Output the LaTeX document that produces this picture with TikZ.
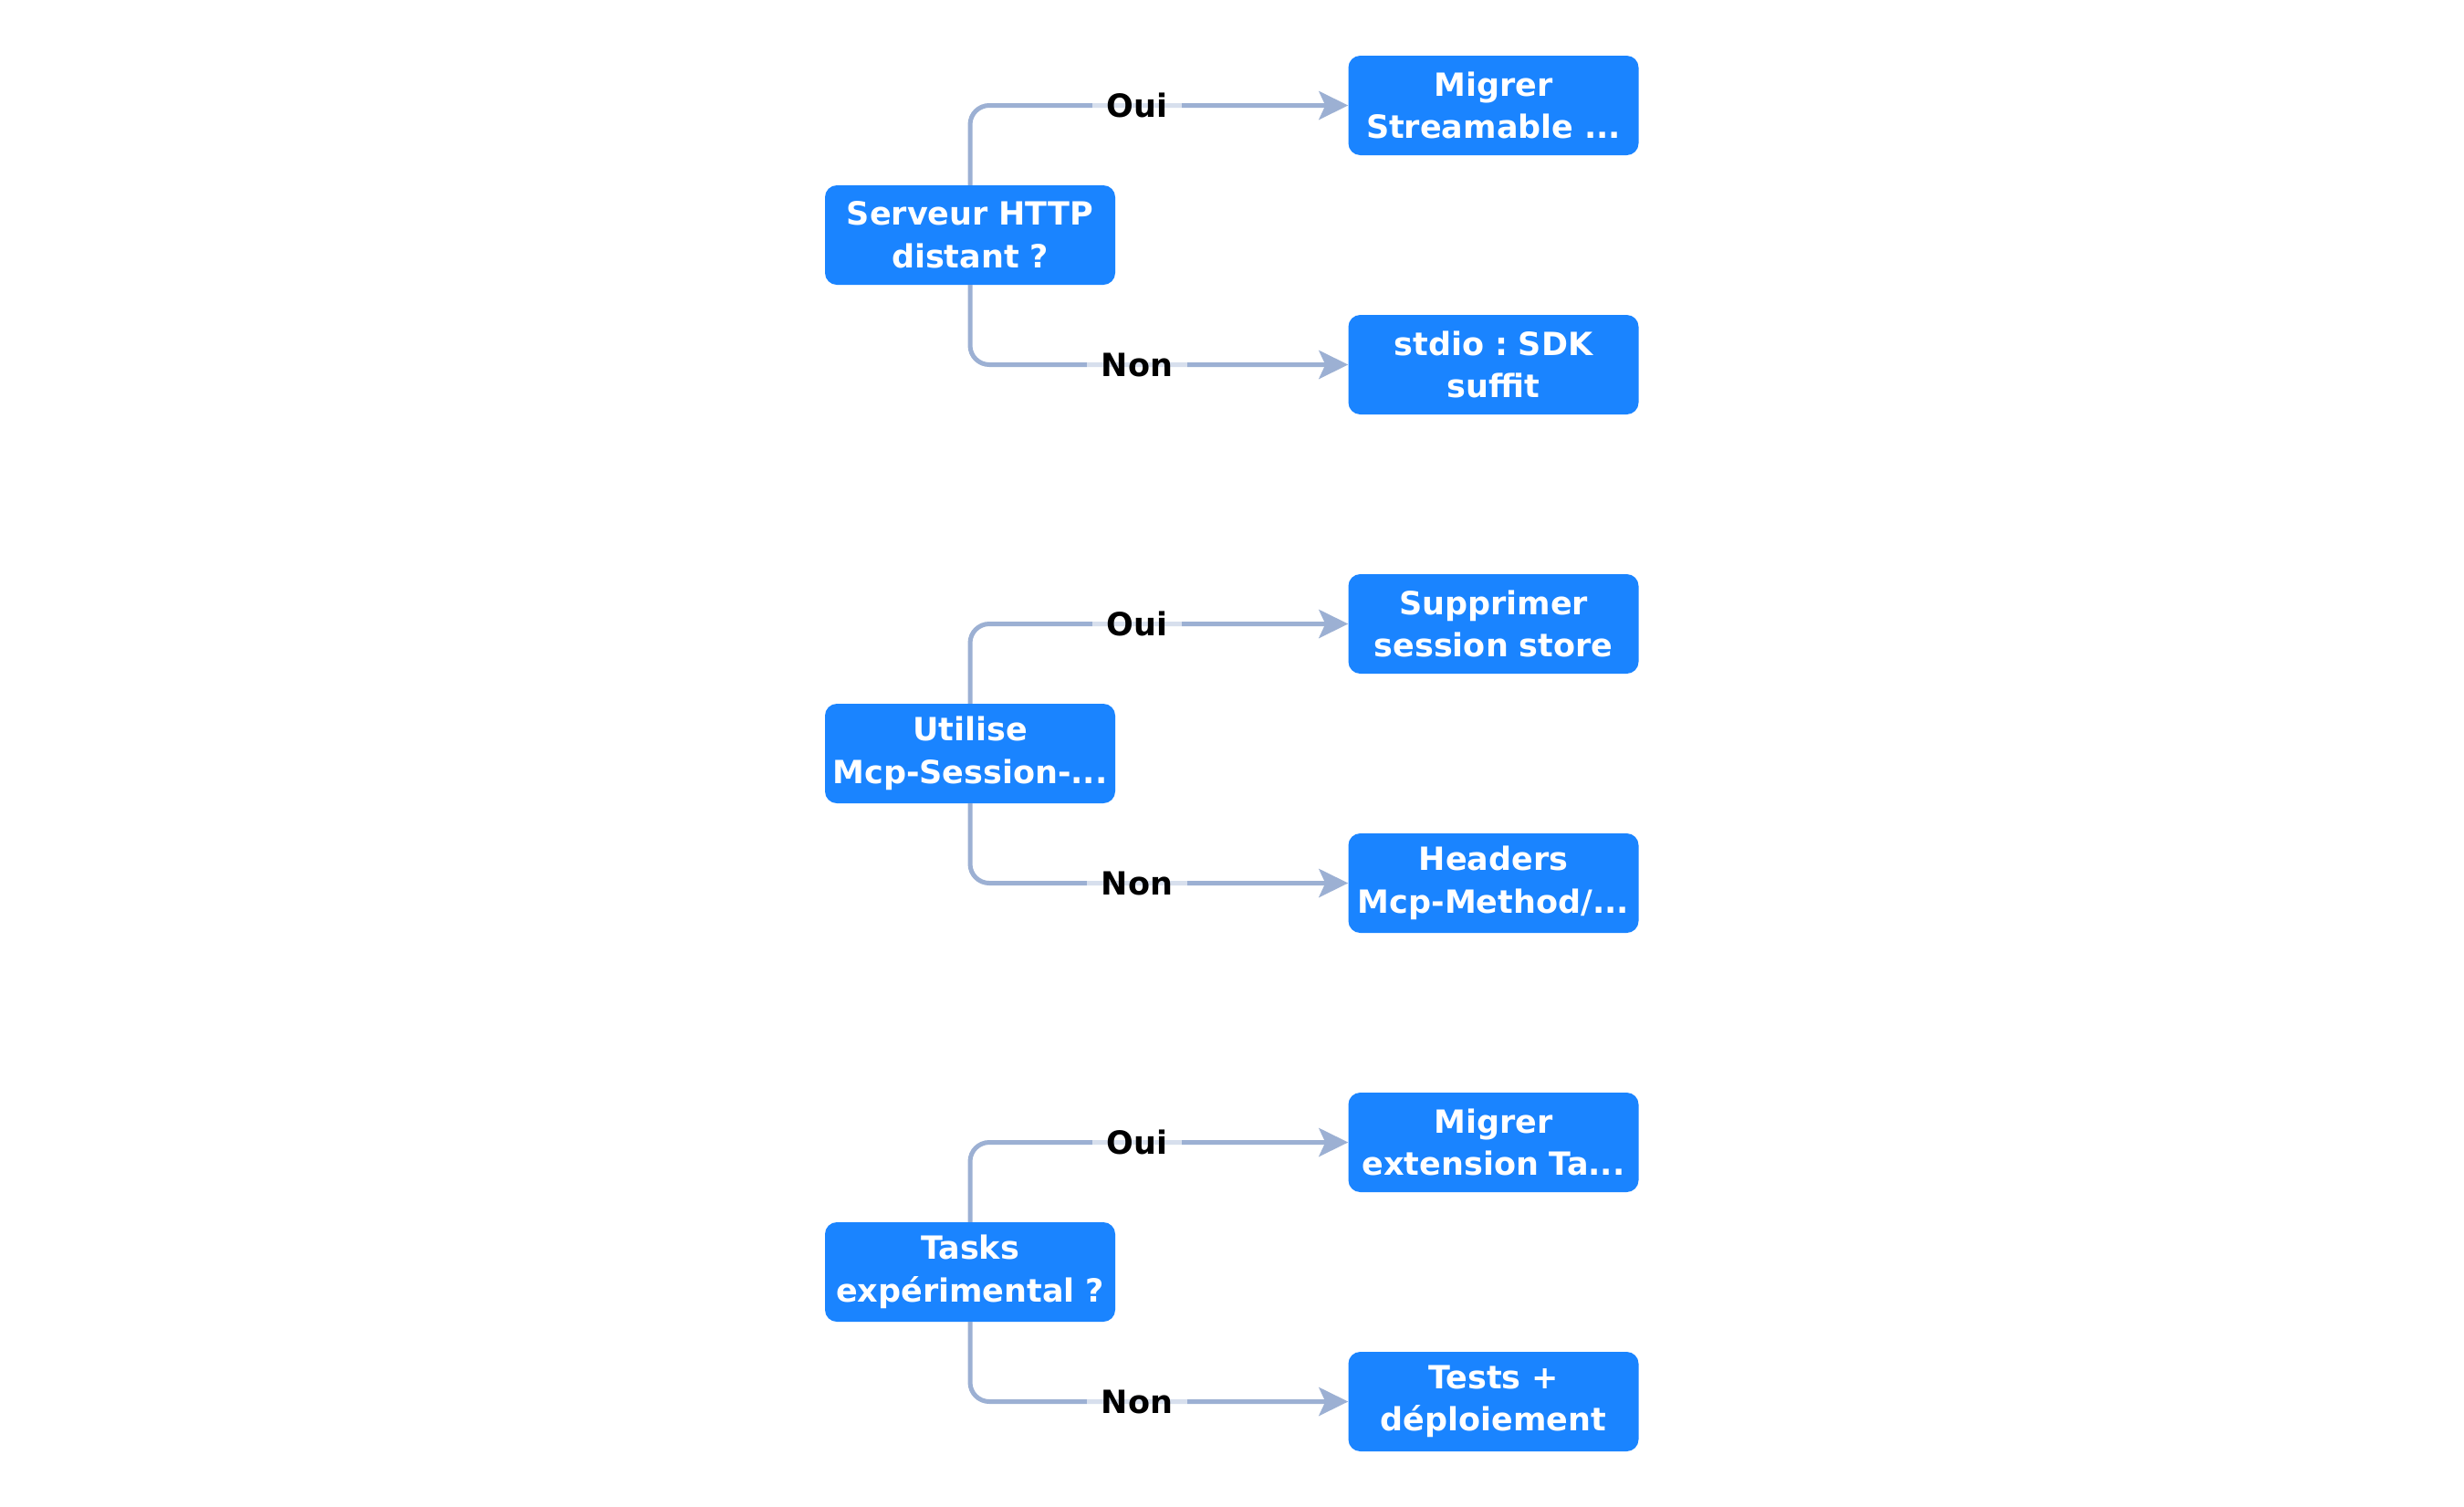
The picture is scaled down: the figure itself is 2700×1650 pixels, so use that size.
\documentclass[tikz,border=0pt]{standalone}
\usepackage{fontspec}
\setmainfont{DejaVu Sans}
\usetikzlibrary{arrows.meta}
\definecolor{boxblue}{HTML}{1A84FF}
\definecolor{linecol}{HTML}{9CB0D3}
\frenchspacing
\begin{document}
\begin{tikzpicture}[x=1pt,y=-1pt,
  box/.style={draw=none, fill=boxblue, rounded corners=13pt,
    minimum width=318pt, minimum height=109pt, text width=318pt,
    text=white, align=center, inner sep=0pt,
    font=\fontsize{35}{46.5}\selectfont\bfseries},
  conn/.style={draw=linecol, line width=5pt, rounded corners=21pt,
    -{Stealth[length=32pt,width=31pt,inset=7pt]}},
  lab/.style={fill=white, fill opacity=0.6, text opacity=1, text=black,
    inner xsep=16pt, inner ysep=4pt,
    font=\fontsize{35}{42}\selectfont\bfseries}]
\useasboundingbox[fill=white] (0,0) rectangle (2700,1650);

% decisions
\node[box] (d1) at (1063,257.5) {Serveur HTTP\\distant ?};
\node[box] (d2) at (1063,825.5) {Utilise\\Mcp-Session-...};
\node[box] (d3) at (1063,1393.5) {Tasks\\expérimental ?};

% results
\node[box] (r1) at (1636.5,115.5) {Migrer\\Streamable ...};
\node[box] (r2) at (1636.5,399.5) {stdio : SDK\\suffit};
\node[box] (r3) at (1636.5,683.5) {Supprimer\\session store};
\node[box] (r4) at (1636.5,967.5) {Headers\\Mcp-Method/...};
\node[box] (r5) at (1636.5,1251.5) {Migrer\\extension Ta...};
\node[box] (r6) at (1636.5,1535.5) {Tests +\\déploiement};

% connectors
\draw[conn] (d1.north) |- (r1.west);
\draw[conn] (d1.south) |- (r2.west);
\draw[conn] (d2.north) |- (r3.west);
\draw[conn] (d2.south) |- (r4.west);
\draw[conn] (d3.north) |- (r5.west);
\draw[conn] (d3.south) |- (r6.west);

% labels
\node[lab] (l1) at (1246,115.5) {Oui};
\node[lab] (l2) at (1246,399.5) {Non};
\node[lab] (l3) at (1246,683.5) {Oui};
\node[lab] (l4) at (1246,967.5) {Non};
\node[lab] (l5) at (1246,1251.5) {Oui};
\node[lab] (l6) at (1246,1535.5) {Non};
\end{tikzpicture}
\end{document}
